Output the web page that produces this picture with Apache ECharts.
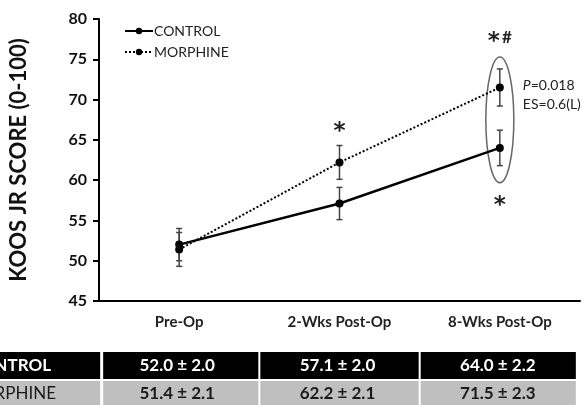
<!DOCTYPE html>
<html>
<head>
<meta charset="utf-8">
<script src="https://cdn.jsdelivr.net/npm/echarts@6/dist/echarts.min.js"></script>
<style>
	html, body { margin: 0; padding: 0; background: #fff; }
	#chart { width: 582px; height: 405px; }
</style>
</head>
<body>
<div id="chart"></div>
<script>
//分类
var categories = ["Pre-Op", "2-Wks Post-Op", "8-Wks Post-Op"];
//均值
var controlMean = [52.0, 57.1, 64.0];
var morphineMean = [51.4, 62.2, 71.5];
//标准差
var controlErr = [2.0, 2.0, 2.2];
var morphineErr = [2.1, 2.1, 2.3];
var seriesNames = ["CONTROL", "MORPHINE"];
var yTicks = [45, 50, 55, 60, 65, 70, 75, 80];

var FONT = "Lato, 'Open Sans', sans-serif";
var chart = echarts.init(document.getElementById("chart"), null, { renderer: "canvas" });

//误差线
function errData(mean, err) {
	var out = [];
	for (var i = 0; i < mean.length; i++) out.push([i, mean[i], err[i]]);
	return out;
}
function renderErr(params, api) {
	var x = api.value(0), m = api.value(1), e = api.value(2);
	var top = api.coord([x, m + e]);
	var bot = api.coord([x, m - e]);
	var cap = 3;
	var st = { stroke: "#444", lineWidth: 1.5 };
	return {
		type: "group",
		children: [
			{ type: "line", shape: { x1: top[0], y1: top[1], x2: bot[0], y2: bot[1] }, style: st },
			{ type: "line", shape: { x1: top[0] - cap, y1: top[1], x2: top[0] + cap, y2: top[1] }, style: st },
			{ type: "line", shape: { x1: bot[0] - cap, y1: bot[1], x2: bot[0] + cap, y2: bot[1] }, style: st }
		]
	};
}

var option = {
	animation: false,
	textStyle: { fontFamily: FONT },
	grid: { left: 93, right: 2, top: 19, bottom: 104 },
	legend: {
		data: seriesNames,
		orient: "vertical",
		left: 119,
		top: 19,
		itemWidth: 28,
		itemHeight: 8,
		itemGap: 7,
		textStyle: { fontSize: 14, color: "#222", fontFamily: FONT, padding: [0, 0, 0, -4] }
	},
	xAxis: {
		type: "category",
		data: categories,
		boundaryGap: true,
		axisLine: { lineStyle: { color: "#000", width: 2 } },
		axisTick: { show: false },
		axisLabel: { fontSize: 15, fontWeight: "bold", color: "#222", margin: 14 }
	},
	yAxis: {
		type: "value",
		min: yTicks[0],
		max: yTicks[yTicks.length - 1],
		interval: 5,
		name: "KOOS JR SCORE (0-100)",
		nameLocation: "middle",
		nameGap: 69,
		nameTextStyle: { fontSize: 22, fontWeight: "bold", color: "#111" },
		axisLine: { show: true, lineStyle: { color: "#000", width: 2 } },
		axisTick: { show: true, length: 6, lineStyle: { color: "#000", width: 2 } },
		splitLine: { show: false },
		axisLabel: { fontSize: 16, fontWeight: "bold", color: "#111", margin: 12 }
	},
	series: [
		{
			name: seriesNames[0],
			type: "line",
			data: controlMean,
			symbol: "circle",
			symbolSize: 8,
			itemStyle: { color: "#000" },
			lineStyle: { color: "#000", width: 2.5 },
			z: 3
		},
		{
			name: seriesNames[1],
			type: "line",
			data: morphineMean,
			symbol: "circle",
			symbolSize: 8,
			itemStyle: { color: "#000" },
			lineStyle: { color: "#000", width: 2, type: "dotted" },
			z: 3
		},
		{ type: "custom", data: errData(controlMean, controlErr), renderItem: renderErr, z: 2, silent: true },
		{ type: "custom", data: errData(morphineMean, morphineErr), renderItem: renderErr, z: 2, silent: true }
	]
};
chart.setOption(option);

//注释与表格
function px(i, v) {
	return chart.convertToPixel({ gridIndex: 0 }, [i, v]);
}
function fmt(m, e) {
	return m.toFixed(1) + " \u00b1 " + e.toFixed(1);
}
var g = [];
var starStyle = { fontSize: 23, fontWeight: "bold", fill: "#222", align: "center", verticalAlign: "middle", fontFamily: "'DejaVu Sans', sans-serif" };
//2周 *
var p1 = px(1, morphineMean[1] + morphineErr[1]);
g.push({ type: "text", x: p1[0], y: p1[1] - 13, style: Object.assign({ text: "*" }, starStyle) });
//8周椭圆
var pTop = px(2, morphineMean[2] + morphineErr[2]);
var pBot = px(2, controlMean[2] - controlErr[2]);
var eTop = pTop[1] - 12, eBot = pBot[1] + 17;
g.push({
	type: "ellipse",
	shape: { cx: pTop[0], cy: (eTop + eBot) / 2, rx: 14, ry: (eBot - eTop) / 2 },
	style: { fill: "none", stroke: "#666", lineWidth: 1.5 }
});
g.push({ type: "text", x: pTop[0] - 6, y: eTop - 15, style: Object.assign({ text: "*" }, starStyle) });
g.push({ type: "text", x: pTop[0] + 7, y: eTop - 19, style: { text: "#", fontSize: 17, fontWeight: "bold", fill: "#222", align: "center", verticalAlign: "middle", fontFamily: FONT } });
g.push({ type: "text", x: pTop[0], y: eBot + 23, style: Object.assign({ text: "*" }, starStyle) });
g.push({
	type: "text", x: pTop[0] + 23, y: 95,
	style: {
		text: "{i|P}=0.018\nES=0.6(L)",
		fontSize: 14, fill: "#222", lineHeight: 19, verticalAlign: "middle", fontFamily: FONT,
		rich: { i: { fontStyle: "italic", fontSize: 14, fill: "#222", fontFamily: FONT } }
	}
});

//表格
var cx = [];
for (var i = 0; i < categories.length; i++) cx.push(px(i, 50)[0]);
var edges = [cx[0] - 77];
for (var i = 0; i < cx.length - 1; i++) edges.push((cx[i] + cx[i + 1]) / 2);
edges.push(cx[cx.length - 1] + 77);
var rows = [
	{ name: seriesNames[0], mean: controlMean, err: controlErr, bg: "#000", fg: "#fff", nameWeight: "bold", y: 352, h: 27, nameRight: 51 },
	{ name: seriesNames[1], mean: morphineMean, err: morphineErr, bg: "#bfbfbf", fg: "#1a1a1a", nameWeight: "normal", y: 381, h: 26, nameRight: 56 }
];
rows.forEach(function (r) {
	g.push({ type: "rect", shape: { x: 0, y: r.y, width: edges[0] - 2, height: r.h }, style: { fill: r.bg } });
	g.push({
		type: "text", x: r.nameRight, y: r.y + r.h / 2,
		style: { text: r.name, fontSize: 17, fontWeight: r.nameWeight, fill: r.fg, align: "right", verticalAlign: "middle", fontFamily: FONT }
	});
	for (var i = 0; i < r.mean.length; i++) {
		g.push({ type: "rect", shape: { x: edges[i] + 1, y: r.y, width: edges[i + 1] - edges[i] - 2, height: r.h }, style: { fill: r.bg } });
		g.push({
			type: "text", x: cx[i] - 2, y: r.y + r.h / 2,
			style: { text: fmt(r.mean[i], r.err[i]), fontSize: 17, fontWeight: "bold", fill: r.fg, align: "center", verticalAlign: "middle", fontFamily: FONT }
		});
	}
});
chart.setOption({ graphic: g });
</script>
</body>
</html>
